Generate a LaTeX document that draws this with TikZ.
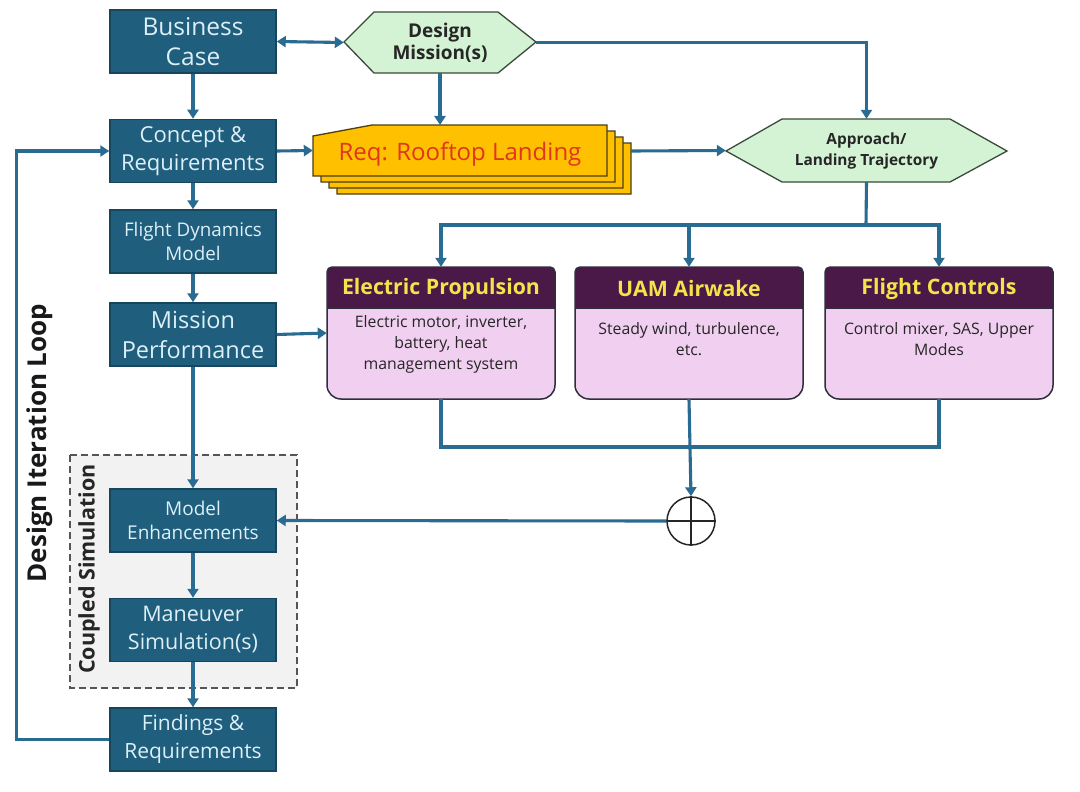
\documentclass[tikz,border=0pt]{standalone}
\usepackage{fontspec}
\setmainfont{Open Sans}
\usetikzlibrary{arrows.meta,calc}
\definecolor{boxblue}{HTML}{1F5E7D}
\definecolor{boxborder}{HTML}{15465E}
\definecolor{boxtext}{HTML}{DDEFF7}
\definecolor{conncol}{HTML}{2A6B91}
\definecolor{hexfill}{HTML}{D4F2D4}
\definecolor{hexborder}{HTML}{3A4A3A}
\definecolor{gold}{HTML}{FFC000}
\definecolor{goldborder}{HTML}{4A3E12}
\definecolor{reqred}{HTML}{E0351F}
\definecolor{purp}{HTML}{4B1947}
\definecolor{hdryellow}{HTML}{F4E34A}
\definecolor{pinkbody}{HTML}{F0CFF0}
\definecolor{pinkborder}{HTML}{2E2E3C}
\definecolor{dashfill}{HTML}{F2F2F2}
\definecolor{dashborder}{HTML}{555555}
\tikzset{
  bluebox/.style={draw=boxborder, fill=boxblue, text=boxtext, line width=1.5,
    minimum width=166, minimum height=63, align=center, inner sep=0},
  conn/.style={draw=conncol, line width=3.1},
  tip/.style={-{Triangle[width=11,length=9]}},
  hexbox/.style={fill=hexfill, draw=hexborder, line width=1.3},
  cardbox/.style={fill=gold, draw=goldborder, line width=1.3},
  anchorbox/.style={inner sep=0, align=center},
  hdr/.style={fill=purp, draw=pinkborder, line width=1.5, rounded corners=5},
  body/.style={fill=pinkbody, draw=pinkborder, line width=1.5, rounded corners=14},
  hdrtext/.style={text=hdryellow, font=\fontsize{21.3}{24}\selectfont\bfseries, inner sep=0},
  bodytext/.style={text=black!85, font=\fontsize{15.8}{21}\selectfont, align=center, inner sep=0, anchor=north}
}
\begin{document}
\begin{tikzpicture}[x=1pt, y=-1pt]
\useasboundingbox (0,0) rectangle (1080,792);
\fill[white] (0,0) rectangle (1080,792);

% coupled simulation dashed region
\draw[fill=dashfill, draw=dashborder, line width=1.3, dash pattern=on 7pt off 4pt] (70,455) rectangle (297,688);
\node[rotate=90, font=\fontsize{21.5}{24}\selectfont\bfseries, text=black!85] (cslabel) at (89,569) {Coupled Simulation};
\node[rotate=90, font=\fontsize{26}{30}\selectfont\bfseries, text=black!90] (loop) at (40,443) {Design Iteration Loop};

% left column boxes
\node[bluebox, font=\fontsize{24.5}{30}\selectfont] (bc) at (193,41.5) {Business\\Case};
\node[bluebox, font=\fontsize{22}{28}\selectfont] (cr) at (193,151) {Concept \&\\Requirements};
\node[bluebox, font=\fontsize{18.8}{24}\selectfont] (fdm) at (193,241.5) {Flight Dynamics\\Model};
\node[bluebox, font=\fontsize{23.5}{30}\selectfont] (mp) at (193,334.5) {Mission\\Performance};
\node[bluebox, font=\fontsize{19}{24}\selectfont] (me) at (193,520.5) {Model\\Enhancements};
\node[bluebox, font=\fontsize{21.5}{28}\selectfont] (ms) at (193,630) {Maneuver\\Simulation(s)};
\node[bluebox, font=\fontsize{21}{28}\selectfont] (fr) at (193,739.5) {Findings \&\\Requirements};

% Design Mission hexagon
\draw[hexbox] (344,42) -- (374,12) -- (498,12) -- (536,42) -- (498,73) -- (374,73) -- cycle;
\node[anchorbox, minimum width=192, minimum height=61, font=\fontsize{19}{22}\selectfont\bfseries, text=black!85] (dm) at (440,42.5) {Design\\Mission(s)};

% Approach hexagon
\draw[hexbox] (726,151) -- (782,119) -- (950,119) -- (1007,151) -- (950,182) -- (782,182) -- cycle;
\node[anchorbox, minimum width=281, minimum height=63, font=\fontsize{15.4}{21}\selectfont\bfseries, text=black!85] (at) at (866.5,150.5) {Approach/\\Landing Trajectory};

% Req card stack
\foreach \k in {3,2,1,0}{
  \draw[cardbox, shift={(8*\k,6*\k)}] (313,136) -- (372,125) -- (607,125) -- (607,176) -- (313,176) -- cycle;
}
\node[anchorbox, minimum width=294, minimum height=51] (req) at (460,150.5) {};
\node[inner sep=0, font=\fontsize{24}{26}\selectfont, text=reqred] (reqtext) at (460,154) {Req: Rooftop Landing};
\coordinate (reqR) at (631,151);

% pink boxes
\foreach \cx/\nm in {441/ep, 689/aw, 939/fc}{
  \draw[body] (\cx-114,308) -- (\cx-114,399) -- (\cx+114,399) -- (\cx+114,308);
  \draw[hdr] (\cx-114,308) -- (\cx-114,267) -- (\cx+114,267) -- (\cx+114,308);
  \draw[draw=pinkborder, line width=1.5] (\cx-114,308) -- (\cx+114,308);
  \node[anchorbox, minimum width=228, minimum height=132] (\nm) at (\cx,333) {};
}
\node[hdrtext] (ephdr) at (441,289) {Electric Propulsion};
\node[hdrtext] (awhdr) at (689,289) {UAM Airwake};
\node[hdrtext] (fchdr) at (939,289) {Flight Controls};
\node[bodytext] (eptext) at (441,315) {Electric motor, inverter,\\battery, heat\\management system};
\node[bodytext] (awtext) at (689,322) {Steady wind, turbulence,\\etc.};
\node[bodytext] (fctext) at (939,322) {Control mixer, SAS, Upper\\Modes};

% summing junction
\node[circle, draw=black!85, line width=1.5, minimum size=48, inner sep=0] (sum) at (691,521) {};
\draw[black!85, line width=1.5] (sum.north) -- (sum.south) (sum.west) -- (sum.east);

% connectors
\draw[conn, {Triangle[width=11,length=9]}-{Triangle[width=11,length=9]}] (bc.east) -- (dm.west);
\draw[conn, tip] (dm.east) -| (at.north);
\draw[conn, tip] (dm.south) -- (dm.south |- 0,125);
\draw[conn, tip] (bc.south) -- (cr.north);
\draw[conn, tip] (cr.south) -- (fdm.north);
\draw[conn, tip] (fdm.south) -- (mp.north);
\draw[conn, tip] (cr.east) -- (req.west);
\draw[conn, tip] (reqR) -- (at.west);
\coordinate (bus) at (866,225);
\draw[conn] (at.south) -- (bus);
\draw[conn, tip] (bus) -| (ep.north);
\draw[conn, tip] (bus) -| (aw.north);
\draw[conn, tip] (bus) -| (fc.north);
\draw[conn, tip] (mp.east) -- (ep.west);
\coordinate (join) at (689,447);
\draw[conn] (ep.south) |- (join) -| (fc.south);
\draw[conn, tip] (aw.south) -- (sum.north);
\draw[conn, tip] (sum.west) -- (me.east);
\draw[conn, tip] (mp.south) -- (me.north);
\draw[conn, tip] (me.south) -- (ms.north);
\draw[conn, tip] (ms.south) -- (fr.north);
\draw[conn, tip] (fr.west) -- ++(-93,0) |- (cr.west);
\end{tikzpicture}
\end{document}
